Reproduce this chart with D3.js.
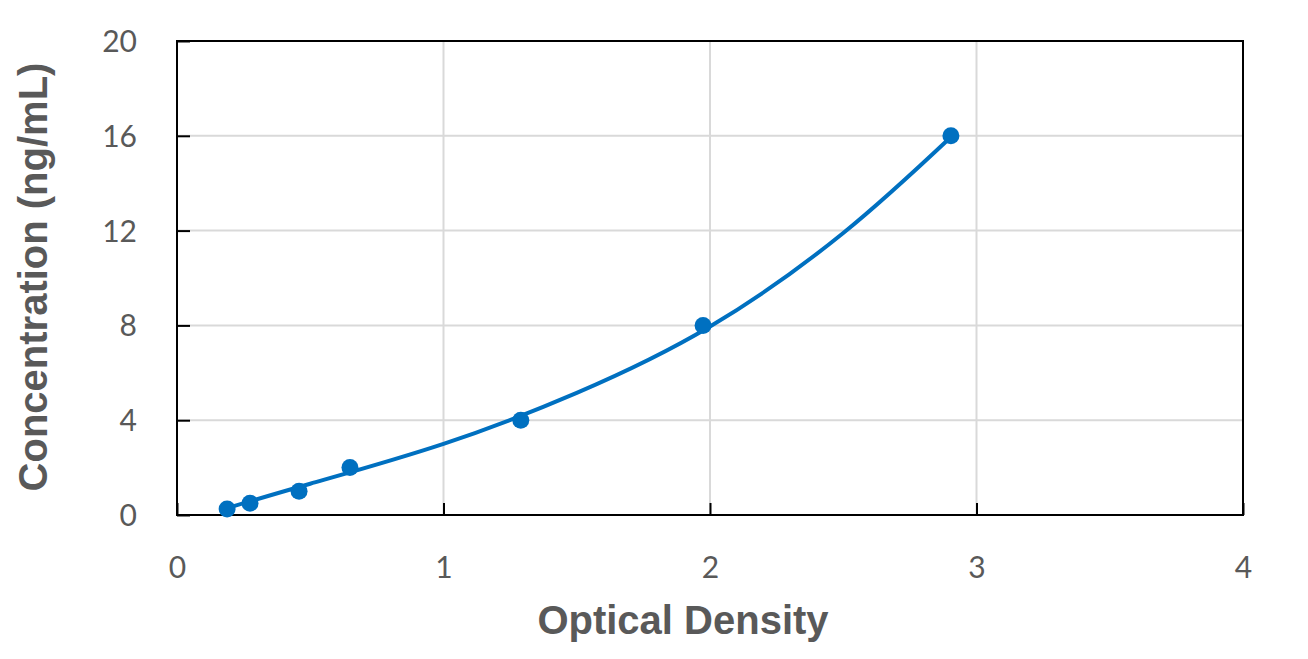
<!DOCTYPE html>
<html>
<head>
<meta charset="utf-8">
<script src="https://cdn.jsdelivr.net/npm/d3@7"></script>
<style>
  body { margin: 0; background: #fff; }
  svg { display: block; }
</style>
</head>
<body>
<script>
const w = 1308;
const h = 659;

// standard points
const odValues = [0.188, 0.274, 0.458, 0.649, 1.29, 1.974, 2.904];
const concValues = [0.25, 0.5, 1, 2, 4, 8, 16];

// fitted curve
const curveOd = [0.188, 0.5, 1.0, 1.5, 2.0, 2.5, 2.901];
const curveConc = [0.29, 1.32, 3.0, 5.15, 7.95, 11.9, 15.92];

const xTicks = [0, 1, 2, 3, 4];
const yTicks = [0, 4, 8, 12, 16, 20];

const plotLeft = 177, plotRight = 1243, plotTop = 41, plotBottom = 515;
const textColor = "#595959";
const blue = "#0070C0";

const svg = d3.select("body").append("svg").attr("width", w).attr("height", h);

const xScale = d3.scaleLinear().domain([0, 4]).range([plotLeft, plotRight]);
const yScale = d3.scaleLinear().domain([0, 20]).range([plotBottom, plotTop]);

// gridlines
svg.append("g")
  .selectAll("line")
  .data(xTicks.slice(1, -1))
  .enter()
  .append("line")
  .attr("x1", d => xScale(d)).attr("x2", d => xScale(d))
  .attr("y1", plotTop).attr("y2", plotBottom)
  .attr("stroke", "#d9d9d9").attr("stroke-width", 2);

svg.append("g")
  .selectAll("line")
  .data(yTicks.slice(1, -1))
  .enter()
  .append("line")
  .attr("x1", plotLeft).attr("x2", plotRight)
  .attr("y1", d => yScale(d)).attr("y2", d => yScale(d))
  .attr("stroke", "#d9d9d9").attr("stroke-width", 2);

// axes with inward ticks
const xAxis = d3.axisBottom(xScale).tickValues(xTicks).tickFormat(d3.format("d")).tickSize(-12).tickPadding(42);
const yAxis = d3.axisLeft(yScale).tickValues(yTicks).tickFormat(d3.format("d")).tickSize(-13);

const gx = svg.append("g")
  .attr("transform", "translate(0," + plotBottom + ")")
  .call(xAxis);
const gy = svg.append("g")
  .attr("transform", "translate(" + plotLeft + ",0)")
  .call(yAxis);

[gx, gy].forEach(g => {
  g.select(".domain").remove();
  g.selectAll(".tick line").attr("stroke", "#000").attr("stroke-width", 2);
  g.selectAll(".tick text")
    .attr("fill", textColor)
    .style("font-family", "Lato, 'Open Sans', sans-serif")
    .style("font-size", "30px");
});
gy.selectAll(".tick text").attr("dy", "0.35em").attr("x", -40);

// frame
svg.append("rect")
  .attr("x", plotLeft).attr("y", plotTop)
  .attr("width", plotRight - plotLeft).attr("height", plotBottom - plotTop)
  .attr("fill", "none").attr("stroke", "#000").attr("stroke-width", 2);

// curve
const line = d3.line()
  .x((d, i) => xScale(curveOd[i]))
  .y((d, i) => yScale(curveConc[i]))
  .curve(d3.curveNatural);

svg.append("path")
  .datum(curveOd)
  .attr("d", line)
  .attr("fill", "none")
  .attr("stroke", blue)
  .attr("stroke-width", 4);

// points
svg.append("g")
  .selectAll("circle")
  .data(odValues)
  .enter()
  .append("circle")
  .attr("cx", d => xScale(d))
  .attr("cy", (d, i) => yScale(concValues[i]))
  .attr("r", 8.5)
  .attr("fill", blue);

// axis titles
svg.append("text")
  .attr("x", 683)
  .attr("y", 634)
  .attr("text-anchor", "middle")
  .attr("fill", textColor)
  .style("font-family", "'Liberation Sans', Arial, sans-serif")
  .style("font-weight", "bold")
  .style("font-size", "40px")
  .text("Optical Density");

svg.append("text")
  .attr("transform", "translate(47,277)rotate(-90)")
  .attr("text-anchor", "middle")
  .attr("fill", textColor)
  .style("font-family", "'Liberation Sans', Arial, sans-serif")
  .style("font-weight", "bold")
  .style("font-size", "40px")
  .text("Concentration (ng/mL)");
</script>
</body>
</html>
